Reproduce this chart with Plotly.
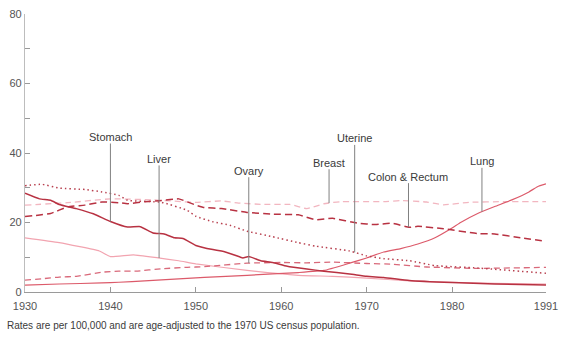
import plotly.graph_objects as go
import numpy as np

# ---- data (rates per 100,000 women, age-adjusted) ----
stomach_years = [1930, 1931.7, 1933, 1934, 1936, 1938, 1940, 1942, 1943.5, 1945, 1946.3, 1947.5, 1948.5,
                 1950, 1952, 1953, 1954.6, 1955.5, 1956.2, 1957.6, 1959, 1960.7, 1963, 1965, 1968, 1970,
                 1972, 1975, 1980, 1985, 1991]
stomach_vals = [28.4, 26.8, 26.4, 25.2, 24.0, 22.5, 20.3, 18.7, 18.8, 17.0, 16.7, 15.6, 15.4,
                13.4, 12.2, 11.8, 10.6, 9.8, 10.2, 9.0, 8.5, 7.4, 6.6, 6.0, 5.2, 4.5,
                4.2, 3.3, 2.7, 2.3, 2.0]

colon_years = [1930, 1933, 1935, 1937, 1939, 1941, 1942, 1944, 1946, 1948, 1950, 1951, 1953, 1956, 1959,
               1962, 1964, 1966, 1969, 1971, 1973, 1975, 1976, 1979, 1983, 1985, 1988, 1991]
colon_vals = [21.7, 22.6, 24.5, 25.0, 25.9, 25.7, 25.4, 26.0, 26.3, 26.8, 25.0, 24.3, 24.0, 22.9, 22.4,
              22.2, 20.8, 21.2, 19.8, 19.4, 19.8, 18.6, 18.9, 18.2, 16.8, 16.7, 15.6, 14.6]

uterine_years = [1930, 1932, 1934, 1937, 1939, 1941, 1942, 1946, 1949, 1950, 1952, 1954, 1956, 1959,
                 1962, 1964, 1968, 1970, 1972, 1975, 1978, 1983, 1991]
uterine_vals = [30.6, 31.0, 29.9, 29.5, 28.8, 27.8, 26.4, 25.8, 23.5, 21.8, 20.2, 19.2, 17.5, 15.9,
                14.2, 13.2, 11.8, 10.4, 9.6, 9.0, 7.6, 6.9, 5.4]

breast_years = [1930, 1935, 1940, 1945, 1950, 1953, 1955, 1958, 1961, 1963, 1965, 1967, 1972, 1974,
                1977, 1979, 1982, 1986, 1991]
breast_vals = [25.0, 25.7, 26.8, 26.5, 25.8, 26.2, 25.6, 25.2, 25.2, 24.0, 25.4, 26.0, 26.0, 26.3,
               25.9, 25.1, 25.8, 26.0, 26.0]

ovary_years = [1930, 1932, 1934, 1936, 1939, 1941, 1943, 1946, 1949, 1951, 1956, 1960, 1963, 1966,
               1970, 1973, 1977, 1983, 1991]
ovary_vals = [3.4, 3.8, 4.3, 4.5, 5.7, 6.0, 6.0, 6.7, 7.1, 7.3, 8.3, 8.5, 8.4, 8.6,
              8.2, 8.0, 7.2, 6.8, 7.1]

lung_years = [1930, 1934, 1939, 1941, 1944, 1949, 1951, 1956, 1962, 1965, 1968, 1970, 1972, 1974, 1976,
              1978, 1980, 1981, 1983, 1985, 1987, 1989, 1990, 1991]
lung_vals = [2.0, 2.3, 2.6, 2.8, 3.2, 3.9, 4.2, 4.8, 5.6, 6.2, 8.3, 9.8, 11.5, 12.5, 13.8,
             15.6, 18.4, 20.0, 22.6, 24.6, 26.5, 28.8, 30.3, 31.1]

liver_years = [1930, 1934, 1938.7, 1940, 1942.7, 1945.6, 1948, 1950, 1956, 1962, 1966, 1970, 1975,
               1980, 1985, 1991]
liver_vals = [15.6, 14.2, 11.8, 10.2, 10.7, 9.8, 9.0, 8.1, 6.2, 4.8, 4.5, 4.0, 3.2, 2.8, 2.5, 2.3]

x_ticks = [1930, 1940, 1950, 1960, 1970, 1980, 1991]
y_ticks = [0, 20, 40, 60, 80]

# label: (name, years, values, leader year, text height)
labels = [
    ("Stomach", stomach_years, stomach_vals, 1940.0, 44.6),
    ("Liver", liver_years, liver_vals, 1945.7, 38.3),
    ("Ovary", ovary_years, ovary_vals, 1956.2, 34.9),
    ("Breast", breast_years, breast_vals, 1965.6, 37.2),
    ("Uterine", uterine_years, uterine_vals, 1968.6, 44.2),
    ("Colon & Rectum", colon_years, colon_vals, 1974.9, 33.2),
    ("Lung", lung_years, lung_vals, 1983.5, 37.6),
]

DARK = "#b83242"
fig = go.Figure()

def add(xs, ys, color, dash, width=1.4):
    fig.add_trace(go.Scatter(x=xs, y=ys, mode="lines",
                             line=dict(color=color, width=width, dash=dash, shape="spline", smoothing=0.4),
                             hoverinfo="skip", showlegend=False))

add(breast_years, breast_vals, "#f2b6c0", "6px,4px", 1.3)
add(liver_years, liver_vals, "#f2a4b0", "solid", 1.2)
add(ovary_years, ovary_vals, "#d9697a", "6px,4px", 1.3)
add(lung_years, lung_vals, "#dc5a6a", "solid", 1.2)
add(uterine_years, uterine_vals, "#b8404f", "1.5px,3px", 1.5)
add(colon_years, colon_vals, DARK, "7px,4px", 1.5)
add(stomach_years, stomach_vals, DARK, "solid", 1.5)

for name, xs, ys, lx, ty in labels:
    yv = float(np.interp(lx, xs, ys))
    fig.add_annotation(x=lx, y=yv, ax=lx, ay=ty, axref="x", ayref="y",
                       text=name, showarrow=True, arrowhead=0, arrowwidth=1,
                       arrowcolor="#808080", standoff=0, startstandoff=0, borderpad=0,
                       font=dict(size=11, color="#3a3a3a"))

fig.add_annotation(xref="paper", yref="paper", x=-0.038, y=-0.095, xanchor="left", yanchor="top",
                   text="Rates are per 100,000 and are age-adjusted to the 1970 US census population.",
                   showarrow=False, font=dict(size=10, color="#3a3a3a"))

fig.update_layout(
    width=566, height=345,
    margin=dict(l=25, r=14, t=8, b=53),
    paper_bgcolor="white", plot_bgcolor="white",
    font=dict(family="Liberation Sans, Arial, sans-serif", color="#555555", size=11),
    xaxis=dict(range=[1930, 1991], tickvals=x_ticks, ticktext=[str(v) for v in x_ticks],
               ticks="inside", ticklen=5, tickcolor="#999999", showgrid=False, zeroline=False,
               ticklabelstandoff=4,
               showline=True, linecolor="#9a9a9a", linewidth=1.2, tickfont=dict(size=11, color="#555555")),
    yaxis=dict(range=[0, 80], tickvals=y_ticks, ticks="inside", ticklen=5, tickcolor="#999999",
               minor=dict(ticks="inside", dtick=10, ticklen=5, tickcolor="#999999"),
               showgrid=False, zeroline=False, showline=True, linecolor="#bdbdbd", linewidth=1.2,
               tickfont=dict(size=11, color="#555555")),
)

fig.write_html("out.html")
